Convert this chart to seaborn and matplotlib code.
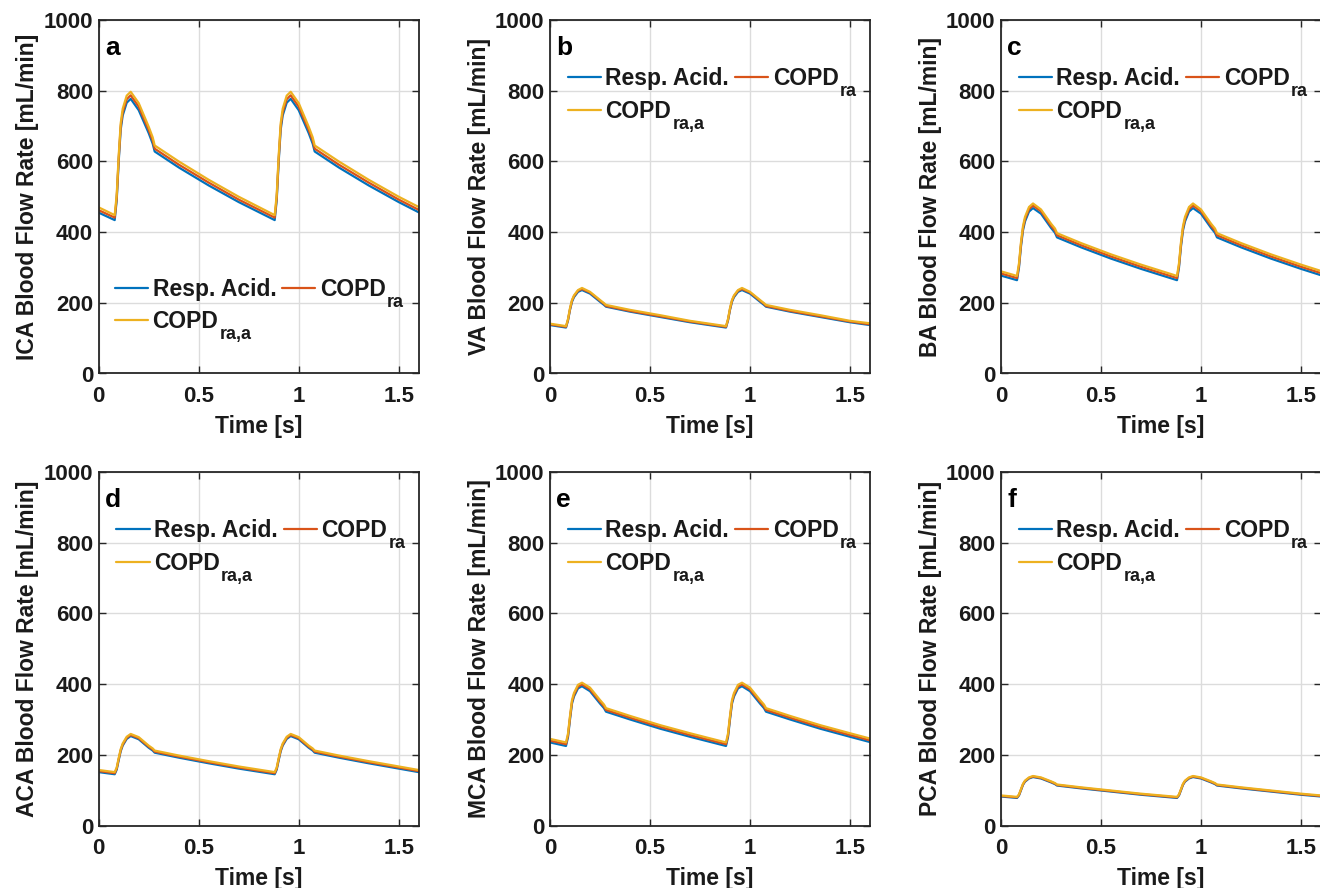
import matplotlib
matplotlib.use("Agg")
import matplotlib.pyplot as plt
import seaborn as sns
import pandas as pd

# ---------------- data ----------------
time_s = [0, 0.08, 0.09, 0.10, 0.11, 0.12, 0.14, 0.16, 0.20, 0.25, 0.27, 0.28, 0.40, 0.55, 0.70,
          0.88, 0.89, 0.90, 0.91, 0.92, 0.94, 0.96, 1.00, 1.05, 1.07, 1.08, 1.20, 1.35, 1.50, 1.60]

conditions = ["Resp. Acid.", "COPD", "COPD"]
subscripts = ["", "ra", "ra,a"]
colors = ["#0072BD", "#D95319", "#EDB120"]
panel_letters = ["a", "b", "c", "d", "e", "f"]
vessels = ["ICA", "VA", "BA", "ACA", "MCA", "PCA"]

ica_resp = [455, 434, 490, 600, 690, 730, 766, 777, 745, 680, 650, 628, 583, 532, 485,
            434, 490, 600, 690, 730, 766, 777, 745, 680, 650, 628, 583, 532, 485, 456]
ica_ra = [462, 441, 497, 608, 699, 739, 776, 787, 755, 689, 659, 636, 591, 540, 492,
          441, 497, 608, 699, 739, 776, 787, 755, 689, 659, 636, 591, 540, 492, 463]
ica_raa = [470, 448, 505, 617, 708, 749, 786, 797, 765, 698, 668, 645, 600, 548, 500,
           448, 505, 617, 708, 749, 786, 797, 765, 698, 668, 645, 600, 548, 500, 471]

va_resp = [137, 130, 150, 180, 203, 216, 231, 236, 226, 203, 194, 189, 175, 160, 145,
           130, 150, 180, 203, 216, 231, 236, 226, 203, 194, 189, 175, 160, 145, 137]
va_ra = [139, 132, 152, 182, 206, 219, 234, 239, 229, 206, 197, 191, 177, 162, 147,
         132, 152, 182, 206, 219, 234, 239, 229, 206, 197, 191, 177, 162, 147, 139]
va_raa = [141, 134, 154, 185, 208, 221, 236, 242, 231, 208, 199, 194, 180, 165, 149,
          134, 154, 185, 208, 221, 236, 242, 231, 208, 199, 194, 180, 165, 149, 142]

ba_resp = [277, 264, 300, 360, 405, 430, 458, 468, 452, 412, 398, 385, 357, 325, 296,
           264, 300, 360, 405, 430, 458, 468, 452, 412, 398, 385, 357, 325, 296, 278]
ba_ra = [283, 270, 306, 366, 411, 437, 465, 475, 459, 418, 404, 391, 363, 331, 302,
         270, 306, 366, 411, 437, 465, 475, 459, 418, 404, 391, 363, 331, 302, 284]
ba_raa = [289, 276, 312, 372, 417, 443, 471, 481, 464, 424, 410, 397, 369, 337, 308,
          276, 312, 372, 417, 443, 471, 481, 464, 424, 410, 397, 369, 337, 308, 290]

aca_resp = [151, 145, 158, 185, 210, 226, 245, 253, 244, 220, 212, 206, 192, 176, 161,
            145, 158, 185, 210, 226, 245, 253, 244, 220, 212, 206, 192, 176, 161, 151]
aca_ra = [154, 148, 161, 188, 213, 229, 248, 256, 247, 223, 215, 209, 195, 179, 164,
          148, 161, 188, 213, 229, 248, 256, 247, 223, 215, 209, 195, 179, 164, 154]
aca_raa = [157, 151, 164, 191, 216, 232, 251, 259, 250, 226, 218, 212, 198, 182, 167,
           151, 164, 191, 216, 232, 251, 259, 250, 226, 218, 212, 198, 182, 167, 157]

mca_resp = [235, 225, 250, 300, 345, 365, 388, 394, 380, 345, 332, 322, 300, 274, 251,
            225, 250, 300, 345, 365, 388, 394, 380, 345, 332, 322, 300, 274, 251, 236]
mca_ra = [240, 230, 255, 305, 350, 370, 393, 399, 385, 350, 337, 327, 305, 279, 256,
          230, 255, 305, 350, 370, 393, 399, 385, 350, 337, 327, 305, 279, 256, 241]
mca_raa = [245, 235, 260, 310, 355, 375, 398, 404, 390, 355, 342, 332, 310, 284, 261,
           235, 260, 310, 355, 375, 398, 404, 390, 355, 342, 332, 310, 284, 261, 246]

pca_resp = [82, 78, 85, 100, 115, 124, 133, 137, 133, 122, 117, 113, 105, 96, 87,
            78, 85, 100, 115, 124, 133, 137, 133, 122, 117, 113, 105, 96, 87, 82]
pca_ra = [83.5, 79.5, 86.5, 101.5, 116.5, 125.5, 134.5, 138.5, 134.5, 123.5, 118.5, 114.5, 106.5, 97.5, 88.5,
          79.5, 86.5, 101.5, 116.5, 125.5, 134.5, 138.5, 134.5, 123.5, 118.5, 114.5, 106.5, 97.5, 88.5, 83.5]
pca_raa = [85, 81, 88, 103, 118, 127, 136, 140, 136, 125, 120, 116, 108, 99, 90,
           81, 88, 103, 118, 127, 136, 140, 136, 125, 120, 116, 108, 99, 90, 85]

series = {
    "ICA": [ica_resp, ica_ra, ica_raa],
    "VA": [va_resp, va_ra, va_raa],
    "BA": [ba_resp, ba_ra, ba_raa],
    "ACA": [aca_resp, aca_ra, aca_raa],
    "MCA": [mca_resp, mca_ra, mca_raa],
    "PCA": [pca_resp, pca_ra, pca_raa],
}

y_ticks = [0, 200, 400, 600, 800, 1000]
x_ticks = [0, 0.5, 1, 1.5]
x_ticklabels = ["0", "0.5", "1", "1.5"]

# ---------------- style ----------------
sns.set_theme(style="ticks")
plt.rcParams["font.family"] = ["Liberation Sans", "DejaVu Sans"]
plt.rcParams["font.weight"] = "bold"
plt.rcParams["axes.labelweight"] = "bold"

fig = plt.figure(figsize=(13.2, 8.88), dpi=100)

W, H = 1320.0, 888.0
col_left = [98.7, 550.0, 1001.0]
row_top = [20.0, 472.0]
ax_w, ax_h = 320.0, 353.5
TXT = "#1a1a1a"

legend_texts = []
for i, vessel in enumerate(vessels):
    r, c = divmod(i, 3)
    left = col_left[c] / W
    bottom = (H - row_top[r] - ax_h) / H
    ax = fig.add_axes([left, bottom, ax_w / W, ax_h / H])

    handles = []
    for cond, col, vals in zip(conditions, colors, series[vessel]):
        df = pd.DataFrame({"Time": time_s, "Flow": vals})
        sns.lineplot(data=df, x="Time", y="Flow", ax=ax, color=col, linewidth=1.6,
                     legend=False)
        handles.append(ax.lines[-1])

    ax.set_xlim(0, 1.6)
    ax.set_ylim(0, 1000)
    ax.set_xticks(x_ticks)
    ax.set_xticklabels(x_ticklabels)
    ax.set_yticks(y_ticks)
    ax.grid(True, color="#dcdcdc", linewidth=1.0)
    ax.set_axisbelow(True)
    for sp in ax.spines.values():
        sp.set_visible(True)
        sp.set_color("#262626")
        sp.set_linewidth(1.3)
    ax.tick_params(direction="in", length=5, width=1, top=True, right=True,
                   labelsize=16, colors="#262626", labelcolor=TXT)
    ax.tick_params(axis="x", pad=9)
    ax.tick_params(axis="y", pad=4)
    ax.set_xlabel("Time [s]", fontsize=16.5, color=TXT, labelpad=6)
    ax.set_ylabel(f"{vessel} Blood Flow Rate [mL/min]", fontsize=16.5, color=TXT, labelpad=3)

    ax.text(0.02, 0.92, panel_letters[i], transform=ax.transAxes, fontsize=19,
            fontweight="bold", va="center", ha="left", color="black")

    order_idx = [0, 2, 1]
    order = [handles[k] for k in order_idx]
    labels = [conditions[k] for k in order_idx]
    common = dict(ncol=2, frameon=False, fontsize=16.5, handlelength=1.45,
                  handletextpad=0.2, columnspacing=0.25, labelspacing=0.4,
                  borderpad=0, borderaxespad=0)
    if i == 0:
        leg = ax.legend(order, labels, loc="lower left", bbox_to_anchor=(0.05, 0.115), **common)
    else:
        leg = ax.legend(order, labels, loc="upper left", bbox_to_anchor=(0.055, 0.866), **common)
    for txt, k in zip(leg.get_texts(), order_idx):
        txt.set_color(TXT)
        if subscripts[k]:
            legend_texts.append((txt, subscripts[k]))

# place the subscripts next to the legend words once the layout is known
fig.canvas.draw()
for txt, sub in legend_texts:
    bb = txt.get_window_extent()
    fig.text((bb.x1 + 1.0) / W, (bb.y0 - 6.0) / H, sub, fontsize=13, fontweight="bold",
             color=TXT, ha="left", va="baseline")

fig.savefig("out.png", dpi=100)
